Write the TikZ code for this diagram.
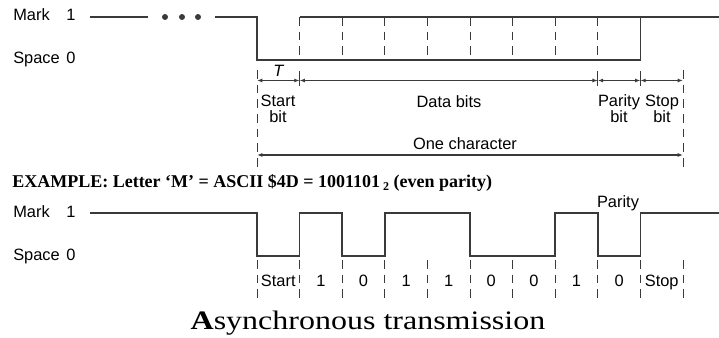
\documentclass[tikz,border=0pt]{standalone}
\usepackage{fontspec}
\setmainfont{Liberation Serif}
\setsansfont{Liberation Sans}
\newfontfamily\titlefont{Liberation Serif}[FakeStretch=1.2]
\usetikzlibrary{arrows.meta}
\definecolor{sigline}{HTML}{3A3A3A}

\begin{document}
\begin{tikzpicture}[
  x=0.75pt, y=-0.75pt,
  >={Latex[length=4pt,width=3pt]},
  wave/.style={draw=sigline, line width=1.1pt},
  bitgrid/.style={draw=sigline, line width=0.7pt, dash pattern=on 6.5pt off 4.5pt},
  bittick/.style={draw=sigline, line width=0.7pt},
  dimline/.style={<->, draw=sigline, line width=0.8pt},
  lvltext/.style={font=\sffamily\fontsize{12.3}{14}\selectfont, inner sep=0pt, anchor=base west},
  bittext/.style={font=\sffamily\fontsize{12.3}{12}\selectfont, inner sep=0pt, align=center}
]
  \useasboundingbox (0,0) rectangle (719,338);

  % level names
  \node[lvltext] (markA) at (13,21) {Mark};
  \node[lvltext] (oneA) at (66,21) {1};
  \node[lvltext] (spaceA) at (13,64) {Space};
  \node[lvltext] (zeroA) at (66,64) {0};
  \node[lvltext] (markB) at (13,218) {Mark};
  \node[lvltext] (oneB) at (66,218) {1};
  \node[lvltext] (spaceB) at (13,261) {Space};
  \node[lvltext] (zeroB) at (66,261) {0};

  % generic character frame
  \draw[wave] (90,17) -- (148,17);
  \foreach \x [count=\i] in {165,182,198}
    \fill[sigline] (\x,17) circle[radius=3] coordinate (dot\i);
  \draw[wave] (215,17) -| (257,60) -| (640.4,17) -- (719,17);
  \draw[wave] (299.6,17) -- (640.4,17);
  \foreach \i in {1,...,8}
    \draw[bitgrid] ({257+42.6*\i},17) -- ({257+42.6*\i},60);

  % dimensions
  \foreach \i in {0,1,8,9,10}
    \coordinate (d\i) at ({257+42.6*\i},80.5);
  \coordinate (c0) at (257,155);
  \coordinate (c10) at (683,155);
  \draw[bitgrid] (257,70) -- (257,167);
  \draw[bitgrid] (683,70) -- (683,167);
  \foreach \i in {1,8,9}
    \draw[bittick] ({257+42.6*\i},71) -- ({257+42.6*\i},86);
  \draw[dimline] (d0) -- node[above=2.5pt, inner sep=0pt, font=\sffamily\itshape\fontsize{12.3}{12}\selectfont] (tper) {T} (d1);
  \draw[dimline] (d1) -- (d8);
  \draw[dimline] (d8) -- (d9);
  \draw[dimline] (d9) -- (d10);
  \draw[dimline] (c0) -- (c10);

  \node[bittext] (startlbl) at (278,109) {Start\\bit};
  \node[bittext, anchor=base] (datalbl) at (449,108) {Data bits};
  \node[bittext] (paritylbl) at (619,109) {Parity\\bit};
  \node[bittext] (stoplbl) at (662,109) {Stop\\bit};
  \node[bittext, anchor=base] (charlbl) at (465,150) {One character};

  % example
  \node[anchor=base west, inner sep=0pt, font=\bfseries\fontsize{13.5}{15}\selectfont] (example) at (12,188)
    {EXAMPLE: Letter ‘M’ = ASCII \$4D = 1001101\,\raisebox{-0.35ex}{\fontsize{9}{9}\selectfont 2} (even parity)};

  \draw[wave] (90,213) -| (257,256) -| (299.6,213) -| (342.2,256) -| (384.8,213)
    -| (470,256) -| (555.2,213) -| (597.8,256) -| (640.4,213) -- (719,213);
  \foreach \i in {0,...,10}
    \draw[bitgrid] ({257+42.6*\i},260) -- ({257+42.6*\i},300);
  \foreach \b [count=\i from 0] in {Start,1,0,1,1,0,0,1,0,Stop}
    \node[bittext, anchor=base] (bit\i) at ({278.3+42.6*\i},286.5) {\b};
  \node[bittext, anchor=base] (parlbl) at (618,207.5) {Parity};

  \node[anchor=base, inner sep=0pt, font=\titlefont\fontsize{20}{22}\selectfont] (title) at (368,330)
    {\textbf{A}synchronous transmission};
\end{tikzpicture}
\end{document}
